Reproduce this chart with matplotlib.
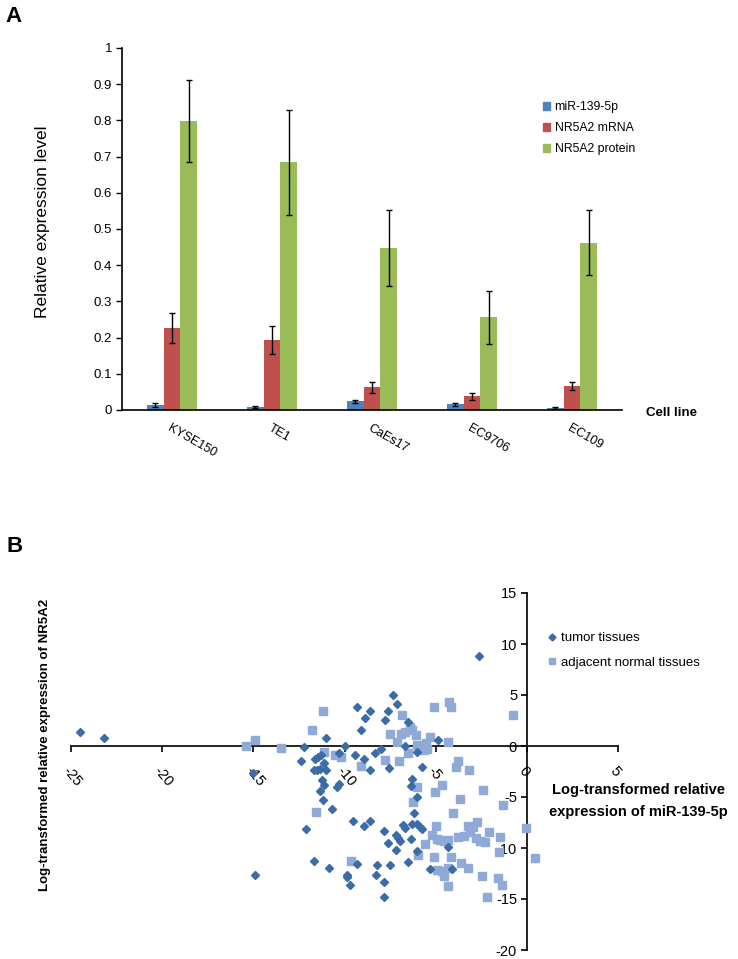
import matplotlib
matplotlib.use('Agg')
import matplotlib.pyplot as plt
import numpy as np
from matplotlib.lines import Line2D
from matplotlib.patches import Patch

plt.rcParams['font.family'] = ['Liberation Sans', 'DejaVu Sans']
plt.rcParams['axes.unicode_minus'] = False

# ── panel A data ──────────────────────────────────────────────────────────────
CELL_LINES = ['KYSE150', 'TE1', 'CaEs17', 'EC9706', 'EC109']
SERIES = ['miR-139-5p', 'NR5A2 mRNA', 'NR5A2 protein']
MIR_MEAN = [0.013, 0.008, 0.024, 0.016, 0.005]
MIR_ERR = [0.005, 0.002, 0.004, 0.004, 0.002]
MRNA_MEAN = [0.226, 0.193, 0.063, 0.038, 0.067]
MRNA_ERR = [0.042, 0.039, 0.015, 0.009, 0.011]
PROT_MEAN = [0.798, 0.685, 0.447, 0.256, 0.462]
PROT_ERR = [0.113, 0.145, 0.105, 0.073, 0.090]
YTICKS_A = [0, 0.1, 0.2, 0.3, 0.4, 0.5, 0.6, 0.7, 0.8, 0.9, 1]
YTICK_LABELS_A = ['0', '0.1', '0.2', '0.3', '0.4', '0.5', '0.6', '0.7', '0.8', '0.9', '1']

# ── panel B data (log-transformed relative expression) ────────────────────────
TUMOR_X = [-24.5, -23.2, -15.0, -14.9, -12.2, -12.4, -12.1, -11.7, -11.0, -11.45,
           -11.6, -11.3, -11.1, -11.7, -11.5, -11.0, -11.35, -11.25, -11.1, -11.35,
           -11.2, -10.7, -10.85, -10.3, -10.3, -10.4, -9.95, -9.85, -9.85, -9.7,
           -9.55, -9.4, -9.3, -9.3, -9.1, -8.9, -8.95, -8.95, -8.6, -8.6,
           -8.6, -8.3, -8.2, -8.25, -8.0, -7.85, -7.85, -7.85, -7.8, -7.6,
           -7.55, -7.6, -7.5, -7.35, -7.1, -7.15, -7.05, -6.98, -7.2, -6.8,
           -6.7, -6.7, -6.5, -6.5, -6.35, -6.3, -6.35, -6.2, -6.3, -6.0,
           -6.0, -6.0, -5.85, -5.75, -6.05, -5.75, -5.3, -4.85, -4.3, -4.1,
           -2.6]
TUMOR_Y = [1.4, 0.8, -2.6, -12.6, -0.05, -1.5, -8.1, -11.3, 0.8, -1.05,
           -1.3, -0.9, -1.7, -2.4, -2.4, -2.4, -2.25, -3.3, -3.8, -4.45,
           -5.3, -6.2, -12.0, -0.65, -3.7, -4.0, 0.0, -12.6, -12.8, -13.65,
           -7.4, -0.85, 3.85, -11.6, 1.6, 2.75, -1.3, -7.8, 3.45, -7.35,
           -2.35, -0.65, -11.7, -12.65, -0.25, -8.3, -13.35, -14.8, 2.55, 3.4,
           -2.15, -9.5, -11.7, 5.0, 4.1, -8.75, -9.05, -9.3, -10.2, -7.7,
           -8.05, 0.0, 2.4, -11.4, -9.1, -3.2, -3.9, -6.6, -7.6, -0.6,
           -5.0, -7.6, -7.95, -8.1, -10.3, -2.05, -12.05, 0.6, -9.9, -12.1,
           8.8]
NORMAL_X = [-15.4, -14.9, -13.5, -11.8, -11.2, -11.1, -10.5, -10.2, -11.55, -9.65,
            -9.1, -7.8, -7.0, -6.85, -7.5, -6.9, -6.7, -6.4, -6.3, -6.1,
            -7.1, -6.5, -6.0, -5.75, -5.55, -5.5, -5.65, -5.3, -5.1, -4.25,
            -4.15, -4.3, -3.75, -3.9, -3.15, -6.0, -6.25, -4.65, -5.05, -3.65,
            -4.05, -2.4, -1.3, -0.75, -5.0, -5.6, -5.95, -5.2, -4.95, -4.75,
            -4.55, -4.35, -5.1, -4.15, -4.9, -4.65, -4.55, -4.35, -4.3, -3.8,
            -3.45, -3.1, -3.2, -2.95, -2.75, -2.8, -2.55, -2.3, -2.1, -1.45,
            -1.5, -3.6, -3.2, -2.45, -1.6, -1.35, -2.2, -0.05, 0.45]
NORMAL_Y = [0.0, 0.6, -0.2, 1.6, 3.4, -0.55, -0.9, -1.05, -6.5, -11.3,
            -1.95, -1.4, -1.5, 3.0, 1.15, 1.2, 1.4, 1.9, 1.55, 1.05,
            0.4, -0.7, 0.1, -0.1, 0.3, -0.25, -0.35, 0.85, 3.8, 4.3,
            3.8, 0.35, -1.45, -2.05, -2.35, -4.0, -5.45, -3.8, -4.5, -5.2,
            -6.55, -4.3, -5.8, 3.0, -7.85, -9.6, -10.7, -8.7, -9.1, -9.25,
            -9.3, -9.2, -10.85, -10.9, -12.2, -12.3, -12.7, -12.0, -13.7, -8.9,
            -8.8, -8.4, -7.8, -7.9, -7.45, -9.05, -9.3, -9.45, -8.45, -8.9,
            -10.35, -11.5, -12.0, -12.7, -12.9, -13.65, -14.8, -8.0, -10.95]
XTICKS_B = [-25, -20, -15, -10, -5, 0, 5]
YTICKS_B = [-20, -15, -10, -5, 0, 5, 10, 15]

BLUE, RED, GREEN = '#4F81BD', '#C0504D', '#9BBB59'
TUMOR_C, NORMAL_C = '#3C6CA8', '#8FAAD6'

W, H = 738, 959
fig = plt.figure(figsize=(W / 100, H / 100), dpi=100)

# ── A: grouped bars ───────────────────────────────────────────────────────────
axA = fig.add_axes([122 / W, 1 - 410 / H, 500 / W, 362 / H])
x = np.arange(len(CELL_LINES))
bw = 0.167
ekw = dict(ecolor='black', elinewidth=1.0, capsize=2, capthick=1.0)
for off, mean, err, col, lab in [(-bw, MIR_MEAN, MIR_ERR, BLUE, SERIES[0]),
                                 (0, MRNA_MEAN, MRNA_ERR, RED, SERIES[1]),
                                 (bw, PROT_MEAN, PROT_ERR, GREEN, SERIES[2])]:
    axA.bar(x + off, mean, bw, yerr=err, color=col, error_kw=ekw, label=lab, zorder=2)

axA.set_xlim(-0.5, 4.5)
axA.set_ylim(0, 1)
axA.set_yticks(YTICKS_A)
axA.set_yticklabels(YTICK_LABELS_A, fontsize=9.5)
axA.set_xticks(x)
axA.set_xticklabels(CELL_LINES, fontsize=9, rotation=-30, ha='left', va='top',
                    rotation_mode='anchor')
axA.tick_params(axis='x', length=0, pad=9)
axA.tick_params(axis='y', length=4, width=1, pad=3)
for s in ['top', 'right']:
    axA.spines[s].set_visible(False)
for s in ['left', 'bottom']:
    axA.spines[s].set_linewidth(1.2)
    axA.spines[s].set_color('black')

fig.text(43 / W, 1 - 222 / H, 'Relative expression level', rotation=90,
         ha='center', va='center', fontsize=12.5)
fig.text(646 / W, 1 - 413 / H, 'Cell line', fontsize=9.5, fontweight='bold',
         ha='left', va='center')
fig.text(5 / W, 1 - 16 / H, 'A', fontsize=16, fontweight='bold', ha='left', va='center')

hA = [Patch(color=c) for c in (BLUE, RED, GREEN)]
fig.legend(hA, SERIES, loc='upper left', bbox_to_anchor=(543 / W, 1 - 101 / H),
           frameon=False, fontsize=8.8, handlelength=0.6, handleheight=0.6,
           handletextpad=0.35, labelspacing=0.75, borderpad=0, borderaxespad=0)

# ── B: scatter with axes crossing at origin ───────────────────────────────────
axB = fig.add_axes([71 / W, 1 - 950 / H, 547 / W, 357 / H])
axB.plot(TUMOR_X, TUMOR_Y, ls='none', marker='D', ms=4.2, color=TUMOR_C,
         mec=TUMOR_C, label='tumor tissues', zorder=3)
axB.plot(NORMAL_X, NORMAL_Y, ls='none', marker='s', ms=5.8, color=NORMAL_C,
         mec=NORMAL_C, label='adjacent normal tissues', zorder=2)
axB.set_xlim(-25, 5)
axB.set_ylim(-20, 15)
axB.spines['left'].set_position(('data', 0))
axB.spines['bottom'].set_position(('data', 0))
for s in ['top', 'right']:
    axB.spines[s].set_visible(False)
for s in ['left', 'bottom']:
    axB.spines[s].set_linewidth(1.4)
    axB.spines[s].set_color('#222222')
    axB.spines[s].set_zorder(1)
axB.set_xticks(XTICKS_B)
axB.set_xticklabels([str(v) for v in XTICKS_B], fontsize=10.5, rotation=-50,
                    ha='left', va='top', rotation_mode='anchor')
axB.set_yticks(YTICKS_B)
axB.set_yticklabels([str(v) for v in YTICKS_B], fontsize=10.5)
axB.tick_params(axis='x', length=4, width=1.2, pad=9)
axB.tick_params(axis='y', length=4, width=1.2, pad=3)
axB.patch.set_alpha(0)

fig.text(45 / W, 1 - 745 / H, 'Log-transformed relative expression of NR5A2',
         rotation=90, ha='center', va='center', fontsize=9.5, fontweight='bold')
fig.text(638 / W, 1 - 801 / H, 'Log-transformed relative\nexpression of miR-139-5p',
         ha='center', va='center', fontsize=10.5, fontweight='bold', linespacing=1.75)
fig.text(7 / W, 1 - 547 / H, 'B', fontsize=16, fontweight='bold', ha='left', va='center')

hB, lB = axB.get_legend_handles_labels()
fig.legend(hB, lB, loc='upper left', bbox_to_anchor=(548 / W, 1 - 632 / H),
           frameon=False, fontsize=9.5, handlelength=0.6, handletextpad=0.4,
           labelspacing=0.95, borderpad=0, borderaxespad=0, markerscale=0.85)

fig.savefig('out.png', dpi=100)
